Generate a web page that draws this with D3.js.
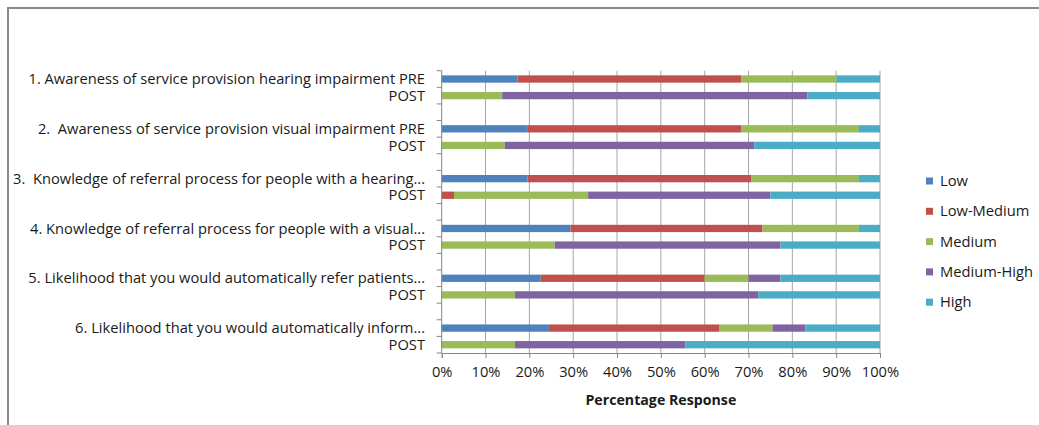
<!DOCTYPE html>
<html>
<head>
<meta charset="utf-8">
<script src="https://cdn.jsdelivr.net/npm/d3@7"></script>
<style>
  body { margin: 0; background: #fff; }
  svg { font-family: "Open Sans", Lato, sans-serif; }
  text { white-space: pre; }
</style>
</head>
<body>
<svg id="chart" width="1039" height="425"></svg>
<script>
// row labels, top to bottom (PRE row carries the question text)
var rowLabels = [
  "1. Awareness of service provision hearing impairment PRE", "POST",
  "2.  Awareness of service provision visual impairment PRE", "POST",
  "3.  Knowledge of referral process for people with a hearing...", "POST",
  "4. Knowledge of referral process for people with a visual...", "POST",
  "5. Likelihood that you would automatically refer patients...", "POST",
  "6. Likelihood that you would automatically inform...", "POST"
];

// percentages per row, one array per response level
var low        = [17.3, 0,    19.5, 0,    19.6, 0,    29.4, 0,    22.6, 0,    24.5, 0];
var lowMedium  = [51.0, 0,    48.8, 0,    51.1, 2.8,  43.8, 0,    37.4, 0,    38.9, 0];
var medium     = [21.8, 13.8, 26.9, 14.4, 24.5, 30.6, 22.0, 25.8, 10.0, 16.7, 12.1, 16.7];
var mediumHigh = [0,    69.6, 0,    56.9, 0,    41.6, 0,    51.5, 7.3,  55.5, 7.5,  38.9];
var high       = [9.9,  16.6, 4.8,  28.7, 4.8,  25.0, 4.8,  22.7, 22.7, 27.8, 17.0, 44.4];

var seriesNames = ["Low", "Low-Medium", "Medium", "Medium-High", "High"];
var seriesColors = ["#4F81BD", "#C0504D", "#9BBB59", "#8064A2", "#4BACC6"];
var xTicks = [0, 10, 20, 30, 40, 50, 60, 70, 80, 90, 100];

var fontSize = 14.7;
var svg = d3.select("#chart");

// outer chart frame
svg.append("rect")
  .attr("x", 8).attr("y", 8)
  .attr("width", 1040).attr("height", 430)
  .attr("fill", "none")
  .attr("stroke", "#8a8a8a")
  .attr("stroke-width", 2);

var plot = {left: 441.7, right: 880, top: 70.7, bottom: 353};

// slots: PRE, POST, empty gap ... (no gap after the last pair)
var slots = [];
rowLabels.forEach(function(l, i) {
  slots.push("r" + i);
  if (i % 2 == 1 && i < rowLabels.length - 1) slots.push("gap" + i);
});

var xScale = d3.scaleLinear().domain([0, 100]).range([plot.left, plot.right]);
var yScale = d3.scaleBand().domain(slots).range([plot.top, plot.bottom]);
var barH = 7.3;

// gridlines
svg.append("g").selectAll("line")
  .data(xTicks.slice(1))
  .enter().append("line")
  .attr("x1", function(d) { return xScale(d); })
  .attr("x2", function(d) { return xScale(d); })
  .attr("y1", plot.top).attr("y2", plot.bottom)
  .attr("stroke", "#a6a6a6").attr("stroke-width", 1);

// stacked data
var rows = rowLabels.map(function(l, i) {
  return {key: "r" + i, label: l, values: [low[i], lowMedium[i], medium[i], mediumHigh[i], high[i]]};
});

rows.forEach(function(row) {
  var start = 0;
  var segs = row.values.map(function(v, k) {
    var s = {x0: start, x1: start + v, color: seriesColors[k]};
    start += v;
    return s;
  }).filter(function(s) { return s.x1 > s.x0; });
  svg.append("g").selectAll("rect")
    .data(segs)
    .enter().append("rect")
    .attr("x", function(s) { return xScale(s.x0); })
    .attr("width", function(s) { return xScale(s.x1) - xScale(s.x0); })
    .attr("y", yScale(row.key) + yScale.bandwidth() / 2 - barH / 2)
    .attr("height", barH)
    .attr("fill", function(s) { return s.color; });
});

// y axis line and ticks between categories
svg.append("line")
  .attr("x1", plot.left).attr("x2", plot.left)
  .attr("y1", plot.top).attr("y2", plot.bottom)
  .attr("stroke", "#868686");
var yTickPos = slots.map(function(s) { return yScale(s); }).concat([plot.bottom]);
svg.append("g").selectAll("line")
  .data(yTickPos)
  .enter().append("line")
  .attr("x1", plot.left - 5).attr("x2", plot.left)
  .attr("y1", function(d) { return d; }).attr("y2", function(d) { return d; })
  .attr("stroke", "#868686");

// category labels
svg.append("g").selectAll("text")
  .data(rows)
  .enter().append("text")
  .attr("x", 425)
  .attr("y", function(r) { return yScale(r.key) + yScale.bandwidth() / 2; })
  .attr("dy", "0.35em")
  .attr("text-anchor", "end")
  .attr("font-size", fontSize)
  .attr("fill", "#1a1a1a")
  .text(function(r) { return r.label; });

// x axis
var xAxis = d3.axisBottom(xScale)
  .tickValues(xTicks)
  .tickSize(5)
  .tickPadding(9)
  .tickFormat(function(d) { return d + "%"; });
var gx = svg.append("g")
  .attr("transform", "translate(0," + plot.bottom + ")")
  .call(xAxis);
gx.select(".domain").attr("stroke", "#868686");
gx.selectAll(".tick line").attr("stroke", "#868686");
gx.selectAll(".tick text")
  .attr("font-size", fontSize)
  .attr("font-family", "'Open Sans', sans-serif")
  .attr("fill", "#1a1a1a");

svg.append("text")
  .attr("x", (plot.left + plot.right) / 2)
  .attr("y", 405)
  .attr("text-anchor", "middle")
  .attr("font-size", 14.2)
  .attr("font-weight", "bold")
  .attr("fill", "#1a1a1a")
  .text("Percentage Response");

// legend
var legend = svg.append("g").selectAll("g")
  .data(seriesNames)
  .enter().append("g")
  .attr("transform", function(d, i) { return "translate(926," + (181 + i * 30.3) + ")"; });
legend.append("rect")
  .attr("x", 0).attr("y", -3.5)
  .attr("width", 7).attr("height", 7)
  .attr("fill", function(d, i) { return seriesColors[i]; });
legend.append("text")
  .attr("x", 14)
  .attr("dy", "0.35em")
  .attr("font-size", fontSize)
  .attr("fill", "#1a1a1a")
  .text(function(d) { return d; });
</script>
</body>
</html>
